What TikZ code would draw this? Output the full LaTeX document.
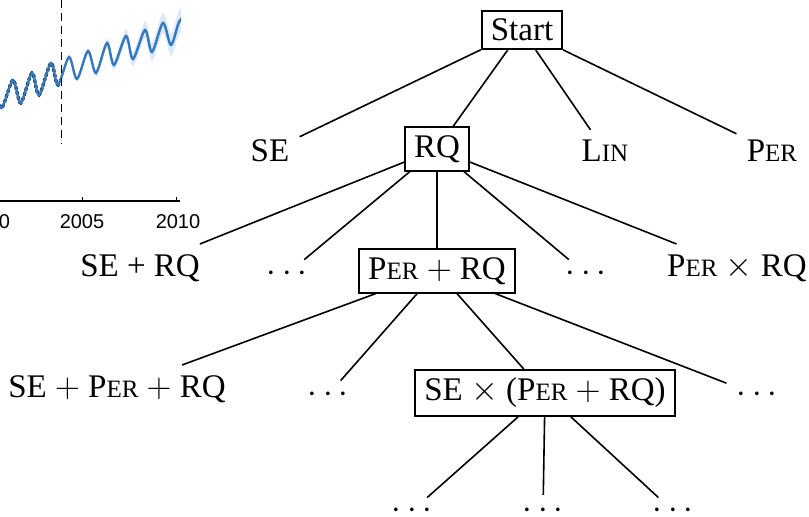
\documentclass[tikz,border=0pt]{standalone}
\usepackage{fontspec}
\setmainfont{Liberation Serif}
\newfontfamily\plotfont{Liberation Sans}
\newcommand{\kPer}{P{\fontsize{12.5}{12.5}\selectfont ER}}
\newcommand{\kLin}{L{\fontsize{12.5}{12.5}\selectfont IN}}
\definecolor{plotblue}{RGB}{52,121,189}
\definecolor{bandblue}{RGB}{221,232,252}

\begin{document}
\begin{tikzpicture}[x=0.5pt, y=-0.5pt,
    every node/.style={font=\fontsize{16.5}{19}\selectfont},
    kbox/.style={draw, line width=1pt, inner xsep=4.5pt, inner ysep=4pt},
    klbl/.style={inner sep=5pt},
    kdots/.style={inner xsep=5pt, inner ysep=0pt, minimum height=14pt},
    kleaf/.style={inner sep=0pt},
    kedge/.style={line width=0.8pt},
    ktick/.style={font=\plotfont\fontsize{10}{12}\selectfont, inner sep=1pt}]
    \useasboundingbox (0,0) rectangle (809,517);

    % Cropped forecast plot (top left)
    \begin{scope}
        \clip (0,0) rectangle (181,240);
        % predictive band
        \fill[bandblue] plot[smooth] coordinates {(61,78) (69,56.2) (77,77.4) (88,48.3) (96,69.5) (107,38.4) (114,59.7) (126,29.5)
            (133,51.8) (145,21.6) (152,42.9) (163,12.8) (171,34) (179,10.2) (186,2.5)}
            -- plot[smooth] coordinates {(186,27.5) (179,33.8) (171,56) (163,33.2) (152,61.1) (145,38.4) (133,66.2) (126,42.5)
            (114,70.3) (107,47.6) (96,76.5) (88,53.7) (77,80.6) (69,57.8) (61,78)} -- cycle;
        % observed data
        \begin{scope}
            \clip (-5,0) rectangle (61,240);
            \draw[black, densely dotted, line width=1.6pt] plot[smooth] coordinates {(-5,90) (1.7,108) (13,80) (20.7,103) (32,73) (39,95)
                (51,63) (58,85) (69,57)};
        \end{scope}
        % mean
        \draw[plotblue, line width=1.2pt] plot[smooth] coordinates {(-5,90) (1.7,108) (13,80) (20.7,103) (32,73) (39,95) (51,63) (58,85)
            (69,57) (77,79) (88,51) (96,73) (107,43) (114,65) (126,36) (133,59) (145,30) (152,52) (163,23) (171,45) (179,22) (186,15)};
    \end{scope}
    \draw[line width=0.4pt, dash pattern=on 4pt off 2.5pt] (61,0) -- (61,144);
    \draw[line width=0.6pt] (0,201) -- (180,201);
    \draw[line width=0.5pt] (82,201) -- (82,197); \draw[line width=0.5pt] (176,201) -- (176,197);
    \node[ktick] (t0) at (4.5,222) {0}; \node[ktick] (t2005) at (82,222) {2005}; \node[ktick] (t2010) at (178,222) {2010};

    % Level 0 and 1
    \node[kbox] (start) at (522,30) {Start};
    \node[klbl] (se) at (270,151) {SE};
    \node[kbox] (rq) at (437,149) {RQ};
    \node[klbl] (lin) at (605,151) {\kLin};
    \node[klbl] (per) at (772,151) {\kPer};
    \foreach \n in {se,rq,lin,per} \draw[kedge] (start) -- (\n);

    % Level 2
    \node[klbl] (serq) at (140,268) {SE + RQ};
    \node[kdots] (dA) at (287,274) {$\cdots$};
    \node[kbox] (perrq) at (437,271) {\kPer\ $+$ RQ};
    \node[kdots] (dB) at (586,274) {$\cdots$};
    \node[klbl] (perxrq) at (737,268) {\kPer\ $\times$ RQ};
    \foreach \n in {serq,dA,perrq,dB,perxrq} \draw[kedge] (rq) -- (\n);

    % Level 3
    \node[klbl] (seperrq) at (117,389) {SE $+$ \kPer\ $+$ RQ};
    \node[kdots] (dC) at (328,395) {$\cdots$};
    \node[kbox] (sexperrq) at (545,393) {SE $\times$ (\kPer\ $+$ RQ)};
    \node[kdots] (dD) at (757,395) {$\cdots$};
    \foreach \n in {seperrq,dC,sexperrq,dD} \draw[kedge] (perrq) -- (\n);

    % Level 4
    \node[kleaf] (dE) at (412,511) {$\cdots$};
    \node[kleaf] (dF) at (543,511) {$\cdots$};
    \node[kleaf] (dG) at (673,511) {$\cdots$};
    \foreach \n in {dE,dF,dG} \draw[kedge, shorten >=4pt] (sexperrq) -- (\n);
\end{tikzpicture}
\end{document}
